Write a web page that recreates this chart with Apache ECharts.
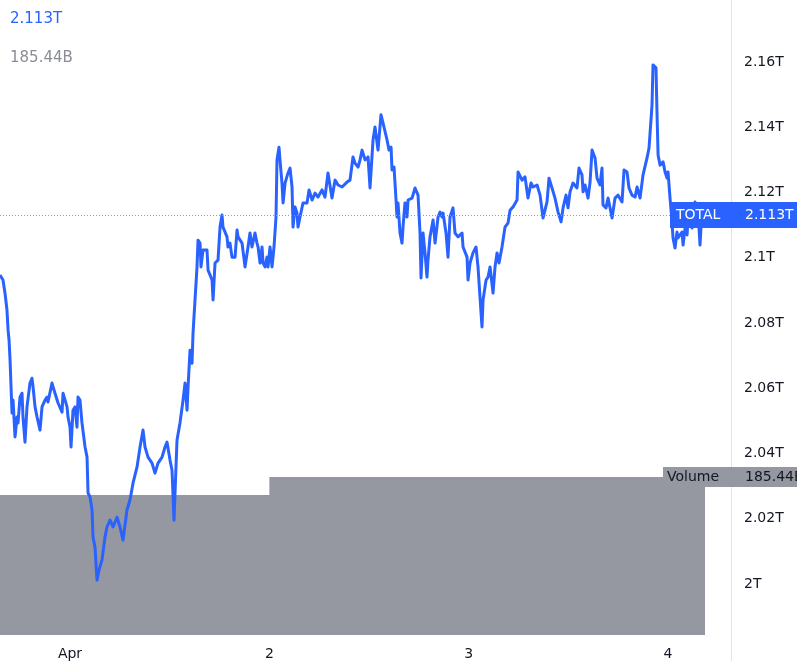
<!DOCTYPE html>
<html>
<head>
<meta charset="utf-8">
<script src="https://cdn.jsdelivr.net/npm/echarts@6/dist/echarts.min.js"></script>
<style>
html,body{margin:0;padding:0;background:#fff;}
#chart{width:797px;height:661px;}
</style>
</head>
<body>
<div id="chart"></div>
<script>
// hours since Apr 1 00:00
const hours = [-8.43,-8.07,-7.83,-7.59,-7.46,-7.34,-7.22,-7.10,-6.98,-6.86,-6.62,-6.38,-6.26,-6.02,-5.78,-5.66,-5.42,-5.18,-4.82,-4.58,-4.45,-4.21,-3.97,-3.61,-3.37,-3.01,-2.77,-2.65,-2.17,-1.81,-1.44,-0.96,-0.84,-0.36,-0.24,
0,0.12,0.36,0.60,0.84,0.96,1.20,1.44,1.81,2.05,2.17,2.41,2.65,2.77,3.01,3.25,3.49,3.85,4.21,4.45,4.82,5.18,5.66,6.02,6.38,6.86,7.22,7.59,8.07,8.43,8.79,9.03,9.39,9.87,10.23,10.60,11.08,11.44,11.68,12.04,12.28,12.52,12.88,13.24,13.61,13.85,14.09,14.21,14.45,14.69,14.81,15.05,15.29,15.41,15.65,15.77,16.01,16.49,16.62,17.10,17.22,17.46,17.82,18.06,18.30,18.42,18.90,19.02,19.26,19.50,19.87,20.11,20.23,20.71,21.07,21.43,21.67,21.91,22.27,22.51,22.64,22.88,23.12,23.24,23.48,23.72,23.84,
24.08,24.32,24.56,24.80,24.92,25.16,25.28,25.52,25.65,25.89,26.25,26.49,26.73,26.85,27.09,27.33,27.45,27.69,28.05,28.53,28.78,29.14,29.50,29.86,30.34,30.70,31.06,31.54,31.91,32.27,32.75,33.35,33.71,34.07,34.31,34.68,34.92,35.16,35.52,35.88,36.12,36.48,36.72,37.08,37.44,37.69,38.17,38.41,38.65,38.77,39.01,39.25,39.37,39.49,39.73,39.97,40.09,40.33,40.57,40.70,41.18,41.54,41.90,42.14,42.26,42.50,42.74,42.98,43.10,43.34,43.71,43.95,44.31,44.55,44.79,44.91,45.27,45.51,45.75,46.11,46.35,46.72,47.20,47.32,47.80,47.92,
48.16,48.52,48.88,49.12,49.36,49.60,49.73,50.09,50.33,50.57,50.93,51.17,51.41,51.65,52.01,52.37,52.74,52.98,53.34,53.82,53.94,54.42,54.78,55.14,55.50,55.75,56.23,56.59,56.95,57.43,57.67,58.03,58.39,58.76,59.12,59.36,59.72,59.96,60.20,60.56,61.04,61.28,61.64,61.77,62.01,62.37,62.61,62.85,63.21,63.45,63.81,64.05,64.17,64.53,64.78,65.26,65.62,65.98,66.46,66.70,67.06,67.30,67.66,68.03,68.27,68.63,68.99,69.47,69.71,70.07,70.19,70.55,70.67,70.80,71.04,71.40,71.64,71.88,
72.00,72.24,72.48,72.60,72.84,73.08,73.20,73.68,73.81,74.05,74.29,74.41,74.65,74.89,75.25,75.49,75.61,75.85,76.09,76.21];

// total crypto market cap, trillions USD
const totalCap = [2.0947,2.0932,2.0892,2.0840,2.0779,2.0748,2.0687,2.0604,2.0524,2.0564,2.0451,2.0512,2.0494,2.0573,2.0585,2.0512,2.0435,2.0543,2.0616,2.0631,2.0604,2.0543,2.0512,2.0472,2.0543,2.0564,2.0573,2.0558,2.0616,2.0585,2.0555,2.0527,2.0585,2.0543,2.0512,
2.0481,2.0420,2.0533,2.0543,2.0481,2.0573,2.0564,2.0494,2.0420,2.0389,2.0279,2.0267,2.0227,2.0144,2.0113,2.0012,2.0043,2.0074,2.0144,2.0175,2.0196,2.0175,2.0205,2.0175,2.0135,2.0227,2.0258,2.0310,2.0359,2.0420,2.0472,2.0420,2.0389,2.0371,2.0340,2.0371,2.0389,2.0420,2.0435,2.0380,2.0349,2.0196,2.0441,2.0494,2.0564,2.0616,2.0533,2.0604,2.0717,2.0677,2.0769,2.0871,2.0972,2.1054,2.1045,2.0972,2.1024,2.1024,2.0962,2.0932,2.0871,2.0984,2.0993,2.1094,2.1131,2.1094,2.1064,2.1033,2.1045,2.1002,2.1002,2.1085,2.1064,2.1045,2.0972,2.1033,2.1076,2.1033,2.1076,2.1045,2.1033,2.0984,2.1033,2.0984,2.0972,2.1002,2.0972,
2.1033,2.0972,2.1033,2.1125,2.1300,2.1339,2.1300,2.1229,2.1168,2.1229,2.1260,2.1275,2.1217,2.1094,2.1156,2.1137,2.1094,2.1125,2.1168,2.1168,2.1208,2.1177,2.1198,2.1186,2.1208,2.1186,2.1260,2.1183,2.1238,2.1223,2.1217,2.1232,2.1238,2.1309,2.1290,2.1278,2.1300,2.1330,2.1300,2.1309,2.1214,2.1361,2.1401,2.1330,2.1438,2.1413,2.1361,2.1330,2.1339,2.1269,2.1278,2.1177,2.1125,2.1168,2.1076,2.1045,2.1094,2.1168,2.1125,2.1177,2.1183,2.1214,2.1192,2.1076,2.0938,2.1076,2.1015,2.0941,2.0993,2.1064,2.1116,2.1045,2.1125,2.1140,2.1125,2.1137,2.1076,2.1002,2.1125,2.1153,2.1076,2.1064,2.1076,2.1033,2.1002,2.0932,
2.0984,2.1015,2.1033,2.0972,2.0880,2.0788,2.0871,2.0932,2.0941,2.0972,2.0892,2.0972,2.1015,2.0984,2.1033,2.1094,2.1107,2.1146,2.1156,2.1177,2.1263,2.1238,2.1248,2.1183,2.1229,2.1217,2.1223,2.1192,2.1122,2.1171,2.1244,2.1214,2.1183,2.1140,2.1110,2.1153,2.1192,2.1153,2.1202,2.1229,2.1214,2.1275,2.1254,2.1202,2.1223,2.1183,2.1232,2.1330,2.1306,2.1244,2.1223,2.1275,2.1162,2.1153,2.1183,2.1122,2.1183,2.1192,2.1171,2.1269,2.1263,2.1214,2.1192,2.1186,2.1217,2.1183,2.1254,2.1306,2.1336,2.1468,2.1591,2.1582,2.1447,2.1315,2.1284,2.1294,2.1263,2.1244,
2.1263,2.1183,2.1110,2.1061,2.1030,2.1079,2.1061,2.1079,2.1039,2.1091,2.1070,2.1122,2.1137,2.1091,2.1171,2.1153,2.1140,2.1039,2.1153,2.1130];

// volume blocks (billions USD), start/end in hours since Apr 1
const volStart = [-8.43, 24];
const volEnd = [24, 76.45];
const volValues = [164.3, 185.44];

const xTickHours = [0, 24, 48, 72];
const xTickLabels = ['Apr', '2', '3', '4'];
const yTickValues = [2.00, 2.02, 2.04, 2.06, 2.08, 2.10, 2.12, 2.14, 2.16];
const yTickLabels = ['2T', '2.02T', '2.04T', '2.06T', '2.08T', '2.1T', '2.12T', '2.14T', '2.16T'];

const seriesName = 'TOTAL';
const volName = 'Volume';

const BLUE = '#2962ff';
const GRAY = '#9598a1';
const TXT = '#131722';
const FONT = '"DejaVu Sans", sans-serif';

const X_MIN = -8.43, X_MAX = 79.58;
const lastVal = totalCap[totalCap.length - 1];
const lastVol = volValues[volValues.length - 1];
const lastValText = lastVal.toFixed(3) + 'T';
const lastVolText = lastVol.toFixed(2) + 'B';

const priceData = hours.map((h, i) => [h, totalCap[i]]);
const volData = [];
volValues.forEach((v, i) => { volData.push([volStart[i], v]); volData.push([volEnd[i], v]); });

const chart = echarts.init(document.getElementById('chart'), null, {renderer: 'canvas'});
chart.setOption({
  animation: false,
  backgroundColor: '#ffffff',
  grid: {left: 0, right: 66, top: 0, bottom: 26, containLabel: false},
  xAxis: {
    type: 'value', min: X_MIN, max: X_MAX,
    axisLine: {show: false}, axisTick: {show: false}, splitLine: {show: false},
    axisLabel: {
      customValues: xTickHours,
      formatter: v => xTickLabels[xTickHours.indexOf(v)] || '',
      color: TXT, fontSize: 14, fontFamily: FONT, margin: 12
    }
  },
  yAxis: [{
    type: 'value', position: 'right', min: 1.9844, max: 2.179,
    axisLine: {show: false},
    axisTick: {show: false}, splitLine: {show: false},
    axisLabel: {
      customValues: yTickValues,
      formatter: v => { const i = yTickValues.findIndex(t => Math.abs(t - v) < 1e-9); return i >= 0 ? yTickLabels[i] : ''; },
      color: TXT, fontSize: 14, fontFamily: FONT, margin: 13, align: 'left'
    }
  }, {
    type: 'value', min: 0, max: 745, show: false
  }],
  series: [{
    name: volName, type: 'line', yAxisIndex: 1, data: volData,
    symbol: 'none', lineStyle: {width: 0}, areaStyle: {color: GRAY, opacity: 1},
    silent: true, z: 1
  }, {
    name: seriesName, type: 'line', yAxisIndex: 0, data: priceData,
    symbol: 'none', lineStyle: {color: BLUE, width: 3, join: 'round'},
    z: 3,
    markLine: {
      silent: true, symbol: 'none', label: {show: false},
      lineStyle: {color: '#7f9be6', width: 1, type: [1, 2]},
      data: [[{coord: [X_MIN, lastVal]}, {coord: [X_MAX, lastVal]}]]
    }
  }]
});

const yP = chart.convertToPixel({yAxisIndex: 0}, lastVal);
const yV = chart.convertToPixel({yAxisIndex: 1}, lastVol);
chart.setOption({
  graphic: [
    {type: 'line', shape: {x1: 731.5, y1: 0, x2: 731.5, y2: 661}, style: {stroke: '#e0e3eb', lineWidth: 1}, z: 10},
    {type: 'text', x: 10, y: 19, style: {text: lastValText, fill: BLUE, font: '15px ' + FONT, textVerticalAlign: 'middle'}, z: 20},
    {type: 'text', x: 10, y: 58, style: {text: lastVolText, fill: '#8a8d96', font: '15px ' + FONT, textVerticalAlign: 'middle'}, z: 20},
    {type: 'rect', shape: {x: 670, y: Math.round(yP) - 13, width: 127, height: 26}, style: {fill: BLUE}, z: 20},
    {type: 'text', x: 676, y: Math.round(yP), style: {text: seriesName, fill: '#fff', font: '14px ' + FONT, textVerticalAlign: 'middle'}, z: 21},
    {type: 'text', x: 745, y: Math.round(yP), style: {text: lastValText, fill: '#fff', font: '14px ' + FONT, textVerticalAlign: 'middle'}, z: 21},
    {type: 'rect', shape: {x: 663, y: Math.round(yV) - 10, width: 134, height: 20}, style: {fill: GRAY}, z: 20},
    {type: 'text', x: 667, y: Math.round(yV), style: {text: volName, fill: TXT, font: '14px ' + FONT, textVerticalAlign: 'middle'}, z: 21},
    {type: 'text', x: 745, y: Math.round(yV), style: {text: lastVolText, fill: TXT, font: '14px ' + FONT, textVerticalAlign: 'middle'}, z: 21}
  ]
});
</script>
</body>
</html>
